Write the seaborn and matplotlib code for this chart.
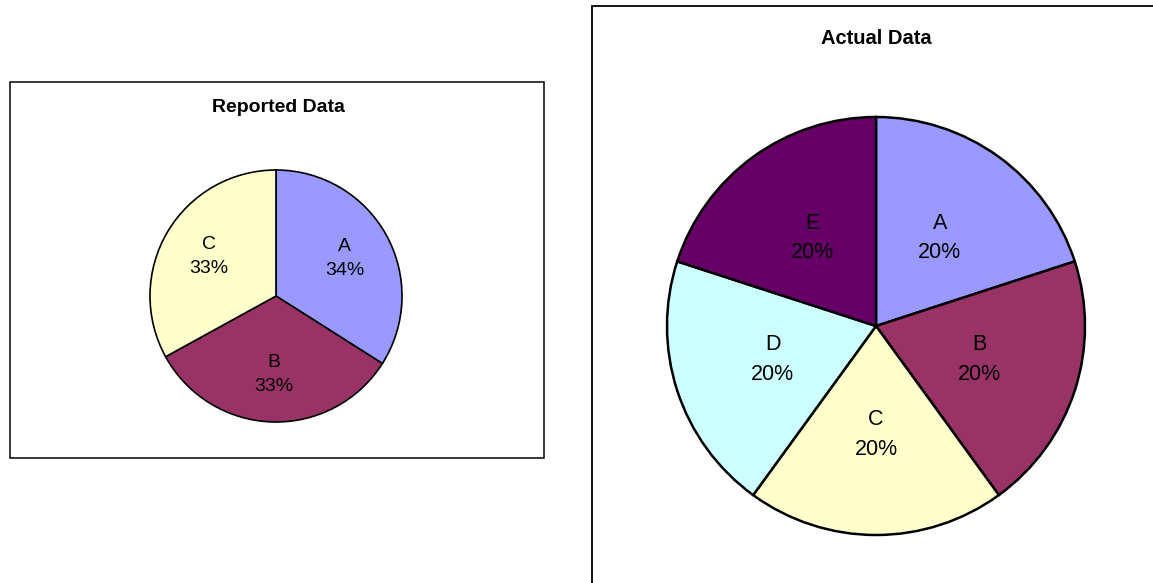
import matplotlib
matplotlib.use("Agg")
import matplotlib.pyplot as plt
import seaborn as sns
from matplotlib.patches import Rectangle

sns.set_theme(style="white")
plt.rcParams['font.family'] = ['Liberation Sans', 'DejaVu Sans']

# Data
reported_cats = ["A", "B", "C"]
reported_vals = [34, 33, 33]
actual_cats = ["A", "B", "C", "D", "E"]
actual_vals = [20, 20, 20, 20, 20]
colors = {"A": "#9999FF", "B": "#993366", "C": "#FFFFCC", "D": "#CCFFFF", "E": "#660066"}

W, H = 1153, 583
fig = plt.figure(figsize=(W / 100, H / 100), dpi=100)
fig.patch.set_facecolor("white")


def add_box(x0, y0, x1, y1, lw):
    fig.patches.append(Rectangle((x0 / W, 1 - y1 / H), (x1 - x0) / W, (y1 - y0) / H,
                                 transform=fig.transFigure, fill=False,
                                 edgecolor="black", linewidth=lw, zorder=0))


def add_pie(cx, cy, r, cats, vals, fs, lw, pctd):
    m = 1.04
    side = 2 * r * m
    ax = fig.add_axes([(cx - side / 2) / W, 1 - (cy + side / 2) / H, side / W, side / H])
    pal = sns.color_palette([colors[c] for c in cats])
    it = iter(cats)
    ax.pie(vals, colors=pal, startangle=90, counterclock=False,
           autopct=lambda p: f"{next(it)}\n{p:.0f}%", pctdistance=pctd,
           wedgeprops=dict(edgecolor="black", linewidth=lw),
           textprops=dict(fontsize=fs, color="black", linespacing=1.55))
    ax.set_xlim(-m, m)
    ax.set_ylim(-m, m)
    ax.set_aspect("equal")
    ax.axis("off")
    return ax


add_box(10, 82, 544, 458, 1.1)
add_box(592, 6, 1165, 600, 1.3)

add_pie(276, 296, 126, reported_cats, reported_vals, 14, 1.2, 0.62)
add_pie(876, 326, 209, actual_cats, actual_vals, 15.5, 1.8, 0.52)

fig.text(278 / W, 1 - 107 / H, "Reported Data", ha="center", va="center",
         fontsize=14, fontweight="bold", color="black")
fig.text(876 / W, 1 - 38 / H, "Actual Data", ha="center", va="center",
         fontsize=14.5, fontweight="bold", color="black")

fig.savefig("out.png", dpi=100, facecolor="white")
